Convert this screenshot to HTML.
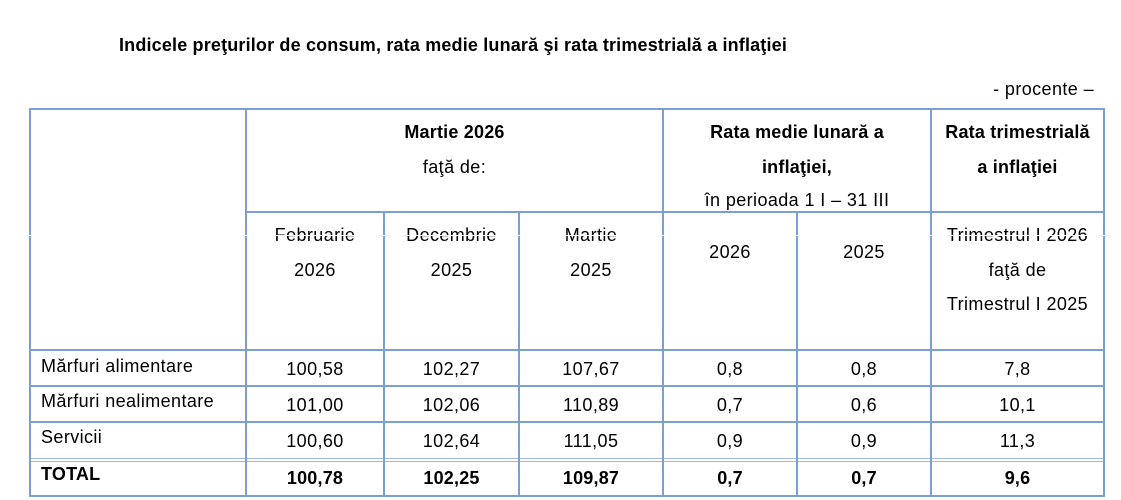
<!DOCTYPE html>
<html>
<head>
<meta charset="utf-8">
<style>
html,body{margin:0;padding:0;background:#fff;}
body{width:1121px;height:500px;position:relative;overflow:hidden;font-family:"Liberation Sans",Arial,sans-serif;color:#000;}
.t{position:absolute;height:20px;line-height:20px;white-space:nowrap;text-align:center;font-size:18px;letter-spacing:0.4px;}
.b{font-weight:bold;letter-spacing:0.2px;}
.l{text-align:left;}
.h{position:absolute;height:2px;background:#7b9fd5;}
.v{position:absolute;width:2px;background:#7b9fd5;}
.thin{position:absolute;height:1px;background:#9db8e0;}
</style>
</head>
<body>
<div class="t b l" style="left:119px;top:35px;letter-spacing:0.17px;">Indicele preţurilor de consum, rata medie lunară şi rata trimestrială a inflaţiei</div>
<div class="t" style="left:930px;top:79px;width:164px;text-align:right;">- procente –</div>

<!-- horizontal lines -->
<div class="h" style="left:29px;top:108px;width:1076px;"></div>
<div class="h" style="left:245px;top:211px;width:860px;"></div>
<div class="h" style="left:29px;top:349px;width:1076px;"></div>
<div class="h" style="left:29px;top:385px;width:1076px;"></div>
<div class="h" style="left:29px;top:421px;width:1076px;"></div>
<div class="thin" style="left:29px;top:458px;width:1076px;"></div>
<div class="thin" style="left:29px;top:461px;width:1076px;"></div>
<div class="h" style="left:29px;top:495px;width:1076px;"></div>

<!-- vertical lines -->
<div class="v" style="left:29px;top:108px;height:389px;"></div>
<div class="v" style="left:245px;top:108px;height:389px;"></div>
<div class="v" style="left:383px;top:211px;height:286px;"></div>
<div class="v" style="left:518px;top:211px;height:286px;"></div>
<div class="v" style="left:662px;top:108px;height:389px;"></div>
<div class="v" style="left:796px;top:211px;height:286px;"></div>
<div class="v" style="left:930px;top:108px;height:389px;"></div>
<div class="v" style="left:1103px;top:108px;height:389px;"></div>

<!-- header -->
<div class="t b" style="left:246px;width:417px;top:122px;">Martie 2026</div>
<div class="t" style="left:246px;width:417px;top:157px;">faţă de:</div>

<div class="t b" style="left:663px;width:268px;top:122px;">Rata medie lunară a</div>
<div class="t b" style="left:663px;width:268px;top:157px;">inflaţiei,</div>
<div class="t" style="left:663px;width:268px;top:190px;">în perioada 1 I – 31 III</div>

<div class="t b" style="left:931px;width:173px;top:122px;">Rata trimestrială</div>
<div class="t b" style="left:931px;width:173px;top:157px;">a inflaţiei</div>

<!-- subheader -->
<div class="t" style="left:246px;width:138px;top:225px;">Februarie</div>
<div class="t" style="left:246px;width:138px;top:260px;">2026</div>
<div class="t" style="left:384px;width:135px;top:225px;">Decembrie</div>
<div class="t" style="left:384px;width:135px;top:260px;">2025</div>
<div class="t" style="left:519px;width:144px;top:225px;">Martie</div>
<div class="t" style="left:519px;width:144px;top:260px;">2025</div>
<div class="t" style="left:663px;width:134px;top:242px;">2026</div>
<div class="t" style="left:797px;width:134px;top:242px;">2025</div>
<div class="t" style="left:931px;width:173px;top:225px;">Trimestrul I 2026</div>
<div class="t" style="left:931px;width:173px;top:260px;">faţă de</div>
<div class="t" style="left:931px;width:173px;top:294px;">Trimestrul I 2025</div>

<!-- rows -->
<div class="t l" style="left:41px;top:356px;">Mărfuri alimentare</div>
<div class="t" style="left:246px;width:138px;top:359px;">100,58</div>
<div class="t" style="left:384px;width:135px;top:359px;">102,27</div>
<div class="t" style="left:519px;width:144px;top:359px;">107,67</div>
<div class="t" style="left:663px;width:134px;top:359px;">0,8</div>
<div class="t" style="left:797px;width:134px;top:359px;">0,8</div>
<div class="t" style="left:931px;width:173px;top:359px;">7,8</div>

<div class="t l" style="left:41px;top:391px;">Mărfuri nealimentare</div>
<div class="t" style="left:246px;width:138px;top:395px;">101,00</div>
<div class="t" style="left:384px;width:135px;top:395px;">102,06</div>
<div class="t" style="left:519px;width:144px;top:395px;">110,89</div>
<div class="t" style="left:663px;width:134px;top:395px;">0,7</div>
<div class="t" style="left:797px;width:134px;top:395px;">0,6</div>
<div class="t" style="left:931px;width:173px;top:395px;">10,1</div>

<div class="t l" style="left:41px;top:427px;">Servicii</div>
<div class="t" style="left:246px;width:138px;top:431px;">100,60</div>
<div class="t" style="left:384px;width:135px;top:431px;">102,64</div>
<div class="t" style="left:519px;width:144px;top:431px;">111,05</div>
<div class="t" style="left:663px;width:134px;top:431px;">0,9</div>
<div class="t" style="left:797px;width:134px;top:431px;">0,9</div>
<div class="t" style="left:931px;width:173px;top:431px;">11,3</div>

<div class="t b l" style="left:41px;top:464px;">TOTAL</div>
<div class="t b" style="left:246px;width:138px;top:468px;">100,78</div>
<div class="t b" style="left:384px;width:135px;top:468px;">102,25</div>
<div class="t b" style="left:519px;width:144px;top:468px;">109,87</div>
<div class="t b" style="left:663px;width:134px;top:468px;">0,7</div>
<div class="t b" style="left:797px;width:134px;top:468px;">0,7</div>
<div class="t b" style="left:931px;width:173px;top:468px;">9,6</div>

<!-- white scan artifact line -->
<div style="position:absolute;left:0;top:235px;width:1121px;height:1px;background:#fff;z-index:5;"></div>
</body>
</html>
